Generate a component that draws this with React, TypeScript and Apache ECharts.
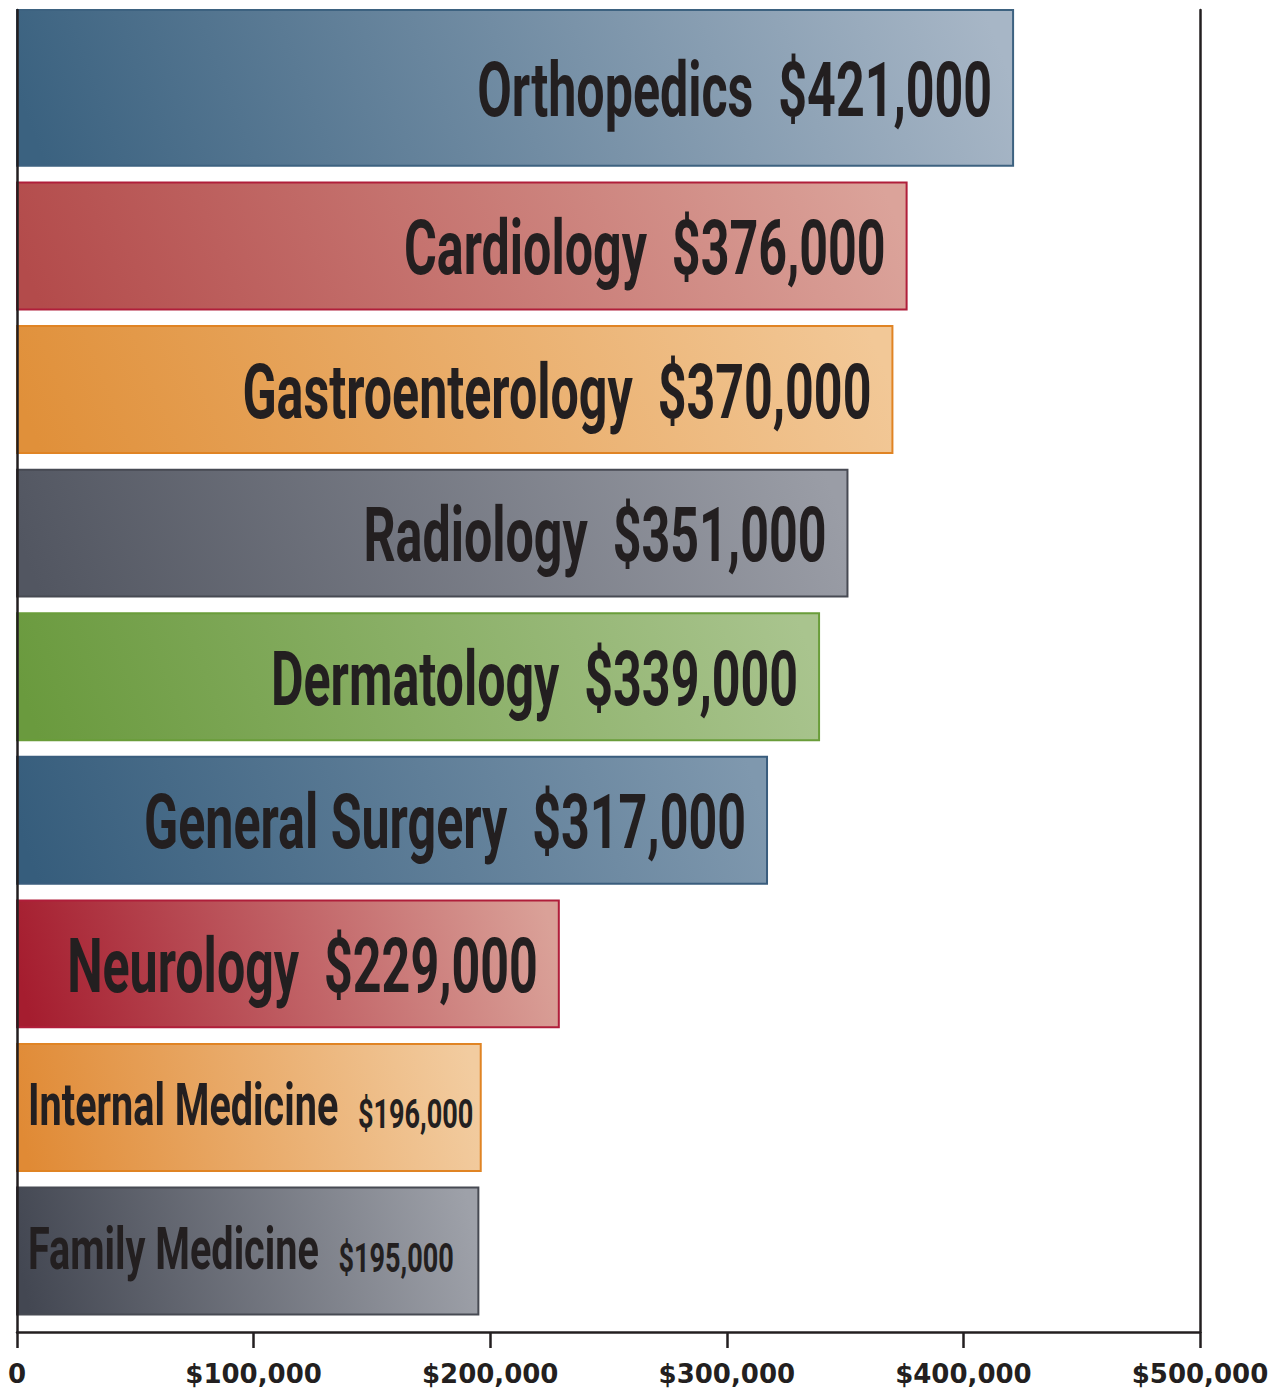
import React, { useEffect, useRef } from 'react';
import * as echarts from 'echarts';

// ---- data ----
const categories = [
  'Orthopedics',
  'Cardiology',
  'Gastroenterology',
  'Radiology',
  'Dermatology',
  'General Surgery',
  'Neurology',
  'Internal Medicine',
  'Family Medicine',
];
const salaries = [421000, 376000, 370000, 351000, 339000, 317000, 229000, 196000, 195000];
const xMin = 0;
const xMax = 500000;
const xStep = 100000;

// ---- styles ----
const leftColors = ['#3b6280', '#b34b4b', '#e0903a', '#525661', '#6a9a3e', '#365d7c', '#a51d2f', '#e08a35', '#434752'];
const rightColors = ['#a7b6c6', '#dba39a', '#f2c897', '#9a9da6', '#a9c48e', '#7f98ae', '#daa198', '#f2cca0', '#9ea1a9'];
const borderColors = ['#3d6280', '#b01e3a', '#e08424', '#474a53', '#6a9d3a', '#3a5d7d', '#b01e3a', '#e08424', '#474a53'];
const compactLabel = [false, false, false, false, false, false, false, true, true];

const INK = '#231f20';
const Y_MIN = -0.6435;
const Y_MAX = 8.564;
const BAR_HALF = 0.442;
const LABEL_FONT = 'Roboto';
const SCALE_X = 0.66;

function fmtMoney(v: number) {
  return '$' + v.toLocaleString('en-US');
}

export default function App() {
  const ref = useRef<HTMLDivElement>(null);
  useEffect(() => {
    if (!ref.current) return;
    const chart = echarts.init(ref.current, undefined, { renderer: 'svg' });
    const renderItem = (params: any, api: any) => {
      const v = api.value(0) as number;
      const i = api.value(1) as number;
      const topV = i === 0 ? Y_MIN : i - BAR_HALF;
      const a = api.coord([0, topV]);
      const b = api.coord([v, i + BAR_HALF]);
      const x = a[0];
      const y = a[1];
      const w = b[0] - a[0];
      const h = b[1] - a[1];
      const fill = new echarts.graphic.LinearGradient(0, 0.53, 1, 0.47, [
        { offset: 0, color: leftColors[i] },
        { offset: 1, color: rightColors[i] },
      ]);
      const compact = compactLabel[i];
      const nSize = compact ? 60 : 76;
      const vSize = compact ? 41 : 76;
      const text = `{n|${categories[i]}}  {v|${fmtMoney(v)}}`;
      return {
        type: 'group',
        children: [
          {
            type: 'rect',
            shape: { x, y, width: w, height: h },
            style: { fill, stroke: borderColors[i], lineWidth: 2 },
          },
          {
            type: 'text',
            x: compact ? x + 11 : x + w - 21,
            y: y + h / 2 + (compact ? -3 : 2),
            scaleX: SCALE_X,
            style: {
              text,
              align: compact ? 'left' : 'right',
              verticalAlign: 'middle',
              fontFamily: LABEL_FONT,
              fontWeight: 'bold',
              fontSize: nSize,
              fill: INK,
              rich: {
                n: { fontFamily: LABEL_FONT, fontWeight: 'bold', fontSize: nSize, fill: INK, verticalAlign: 'bottom' },
                v: { fontFamily: LABEL_FONT, fontWeight: 'bold', fontSize: vSize, fill: INK, verticalAlign: 'bottom' },
              },
            },
          },
        ],
      };
    };
    const axisLineStyle = { color: INK, width: 2.5 };
    const yAxisBase = {
      type: 'value',
      inverse: true,
      min: Y_MIN,
      max: Y_MAX,
      axisLine: { show: true, onZero: false, lineStyle: axisLineStyle },
      axisTick: { show: false },
      axisLabel: { show: false },
      splitLine: { show: false },
      z: 10,
    };
    chart.setOption({
      animation: false,
      backgroundColor: '#ffffff',
      grid: { left: 17, right: 88, top: 10, bottom: 59, containLabel: false },
      xAxis: {
        type: 'value',
        min: xMin,
        max: xMax,
        interval: xStep,
        axisLine: { show: true, onZero: false, lineStyle: axisLineStyle },
        axisTick: { show: true, length: 16, lineStyle: axisLineStyle },
        axisLabel: {
          margin: 29,
          fontFamily: 'DejaVu Sans',
          fontWeight: 'bold',
          fontSize: 26,
          color: INK,
          formatter: (val: number) => (val === 0 ? '0' : fmtMoney(val)),
        },
        splitLine: { show: false },
        z: 10,
      },
      yAxis: [
        { ...yAxisBase, position: 'left' },
        { ...yAxisBase, position: 'right' },
      ],
      series: [
        {
          type: 'custom',
          xAxisIndex: 0,
          yAxisIndex: 0,
          encode: { x: 0, y: 1 },
          data: salaries.map((v, i) => [v, i]),
          renderItem,
          z: 2,
        },
      ],
    });
    return () => chart.dispose();
  }, []);
  return (
    <div
      ref={ref}
      style={{ position: 'absolute', left: 0, top: 0, width: 1288, height: 1391 }}
    />
  );
}
